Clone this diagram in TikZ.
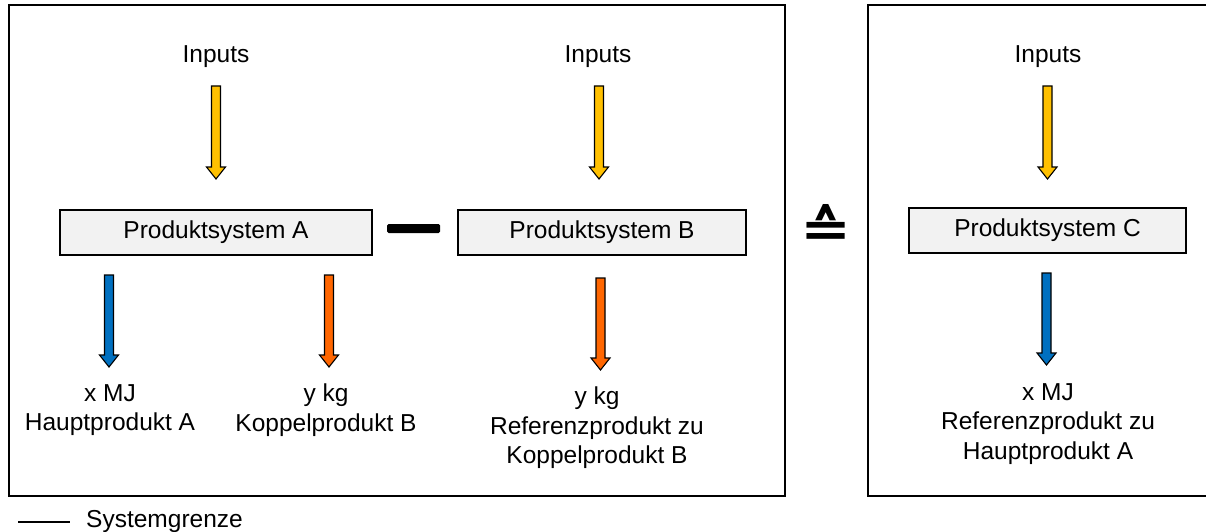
\documentclass[tikz,border=0pt]{standalone}
\usepackage{fontspec}
\setmainfont{Liberation Sans}
\newfontfamily\symfont{DejaVu Sans}
\usetikzlibrary{calc}
\definecolor{inyellow}{HTML}{FFC000}
\definecolor{outblue}{HTML}{0070C0}
\definecolor{outorange}{HTML}{FF6600}
\definecolor{boxgray}{HTML}{F2F2F2}
\tikzset{
  txt/.style={font=\fontsize{24.5}{29.5}\selectfont, inner sep=0pt, align=center},
  sysbox/.style={draw=black, line width=2pt, fill=boxgray, minimum height=45pt, inner sep=0pt, font=\fontsize{24.5}{29.5}\selectfont},
  border/.style={draw=black, line width=2pt},
  barrow/.style={draw=black, line width=1.1pt, line join=miter},
}
\newcommand\blockarr[3]{%
  \filldraw[barrow, fill=#1]
    ($(#2)+(-4.5,0)$) -- ($(#2)+(4.5,0)$) -- ($(#3)+(4.5,-12)$) -- ($(#3)+(9.5,-12)$)
    -- (#3) -- ($(#3)+(-9.5,-12)$) -- ($(#3)+(-4.5,-12)$) -- cycle;
}
\begin{document}
\begin{tikzpicture}[x=1pt,y=-1pt]
\useasboundingbox (0,0) rectangle (1206,532);
% system boundaries
\draw[border] (9,5) rectangle (785,496);
\draw[border] (1207,5) -- (868,5) -- (868,496) -- (1207,496);
% left part: system A
\node[txt] (inA) at (216,57) {Inputs};
\node[sysbox, minimum width=312pt] (boxA) at (216,232.5) {Produktsystem A};
\coordinate (inAs) at (216,86); \coordinate (inAe) at (216,179);
\blockarr{inyellow}{inAs}{inAe}
\coordinate (oA1s) at (109,275); \coordinate (oA1e) at (109,367);
\blockarr{outblue}{oA1s}{oA1e}
\coordinate (oA2s) at (329,275); \coordinate (oA2e) at (329,367);
\blockarr{outorange}{oA2s}{oA2e}
\node[txt, anchor=north] (outA1) at (110,384) {x MJ\\Hauptprodukt A};
\node[txt, anchor=north] (outA2) at (326,384) {y kg\\Koppelprodukt B};
% minus
\node[fill=black, minimum width=53pt, minimum height=9pt, inner sep=0pt, rounded corners=1.5pt] (minus) at (413.5,228.5) {};
% system B
\node[txt] (inB) at (598,57) {Inputs};
\node[sysbox, minimum width=288pt] (boxB) at (602,232) {Produktsystem B};
\coordinate (inBs) at (599,86); \coordinate (inBe) at (599,179);
\blockarr{inyellow}{inBs}{inBe}
\coordinate (oBs) at (600.5,278); \coordinate (oBe) at (600.5,370);
\blockarr{outorange}{oBs}{oBe}
\node[txt, anchor=north] (outB) at (597,387) {y kg\\Referenzprodukt zu\\Koppelprodukt B};
% corresponds symbol
\node[inner sep=0pt, font=\symfont\bfseries\fontsize{50}{50}\selectfont] (corr) at (826,225) {\scalebox{1.22}[1]{≙}};
% system C
\node[txt] (inC) at (1048,57) {Inputs};
\node[sysbox, minimum width=277pt] (boxC) at (1047.5,230.5) {Produktsystem C};
\coordinate (inCs) at (1047.5,86); \coordinate (inCe) at (1047.5,179);
\blockarr{inyellow}{inCs}{inCe}
\coordinate (oCs) at (1046.5,273); \coordinate (oCe) at (1046.5,365);
\blockarr{outblue}{oCs}{oCe}
\node[txt, anchor=north] (outC) at (1048,383) {x MJ\\Referenzprodukt zu\\Hauptprodukt A};
% legend
\coordinate (lg1) at (18,522); \coordinate (lg2) at (70,522);
\draw[line width=2.8pt] (lg1) -- (lg2);
\node[txt, anchor=west] (legend) at (86,521) {Systemgrenze};
\end{tikzpicture}
\end{document}
